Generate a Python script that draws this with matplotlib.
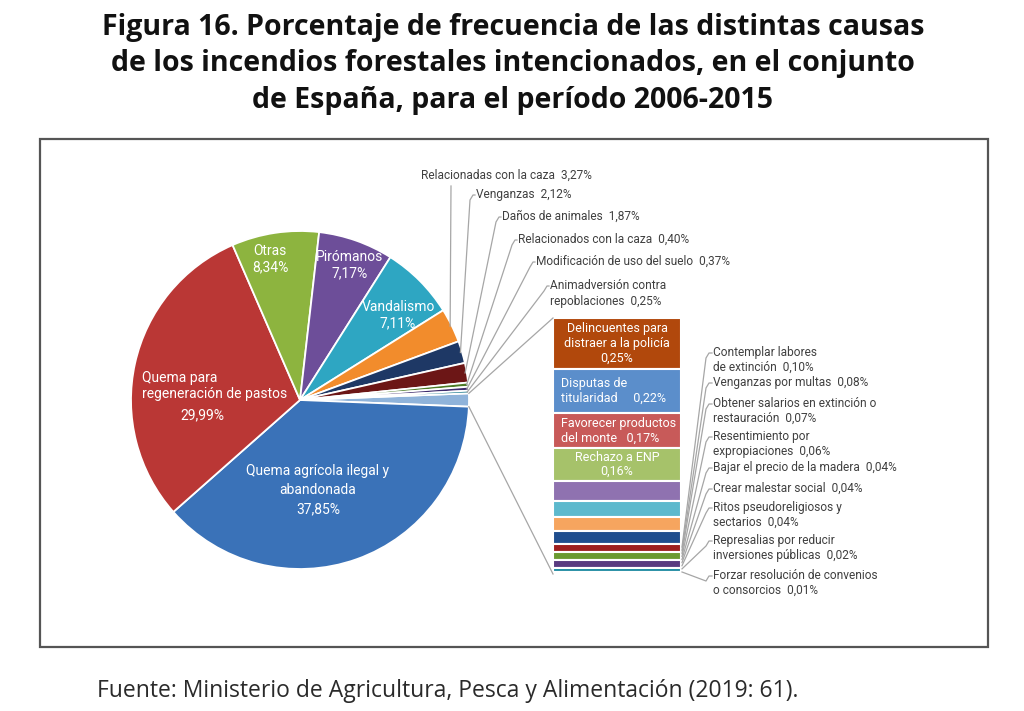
import numpy as np
import matplotlib
matplotlib.use("Agg")
import matplotlib.pyplot as plt
from matplotlib.patches import Rectangle

# --- data -------------------------------------------------------------
# main slices, clockwise after the grouped slice
pie_labels = ["Quema agrícola ilegal y abandonada", "Quema para regeneración de pastos",
              "Otras", "Pirómanos", "Vandalismo", "Relacionadas con la caza", "Venganzas",
              "Daños de animales", "Relacionados con la caza", "Modificación de uso del suelo",
              "Animadversión contra\nrepoblaciones"]
pie_values = [37.85, 29.99, 8.34, 7.17, 7.11, 3.27, 2.12, 1.87, 0.40, 0.37, 0.25]
pie_colors = ["#3A72B8", "#BA3735", "#8DB43F", "#6D4E99", "#2EA6C2", "#F28C2C", "#1E3865",
              "#6C1616", "#4E7B27", "#3E2A6C", "#1C7A8E"]
group_color = "#8FB3DA"

# secondary bar, top to bottom
bar_labels = ["Delincuentes para\ndistraer a la policía", "Disputas de\ntitularidad",
              "Favorecer productos\ndel monte", "Rechazo a ENP",
              "Contemplar labores\nde extinción", "Venganzas por multas",
              "Obtener salarios en extinción o\nrestauración", "Resentimiento por\nexpropiaciones",
              "Bajar el precio de la madera", "Crear malestar social",
              "Ritos pseudoreligiosos y\nsectarios", "Represalias por reducir\ninversiones públicas",
              "Forzar resolución de convenios\no consorcios"]
bar_values = [0.25, 0.22, 0.17, 0.16, 0.10, 0.08, 0.07, 0.06, 0.04, 0.04, 0.04, 0.02, 0.01]
bar_colors = ["#B1480C", "#5B8ECB", "#C85A59", "#A6C26A", "#8F72B0", "#5DB9CD", "#F6A55F",
              "#1F4E8E", "#9D1F1F", "#6B9A31", "#5A3A80", "#1E8AA1", "#F8C88F"]

title = ("Figura 16. Porcentaje de frecuencia de las distintas causas\n"
         "de los incendios forestales intencionados, en el conjunto\n"
         "de España, para el período 2006-2015")
source = "Fuente: Ministerio de Agricultura, Pesca y Alimentación (2019: 61)."


def pct(v):
    return f"{v:.2f}".replace(".", ",") + "%"


W, H = 1024, 711
fig = plt.figure(figsize=(W / 100, H / 100), dpi=100)
plt.rcParams['font.family'] = ['Roboto', 'DejaVu Sans']
txt = "#404040"
line_c = "#A6A6A6"

# pie
cx, cy, r = 300, 400, 169
ax_pie = fig.add_axes([(cx - r) / W, (H - cy - r) / H, 2 * r / W, 2 * r / H])
group = sum(bar_values)
values = [group] + pie_values
total = sum(values)
wedges, _ = ax_pie.pie(values, colors=[group_color] + pie_colors, counterclock=False,
                       startangle=180 * group / total, radius=1,
                       wedgeprops=dict(edgecolor="white", linewidth=1.3))
ax_pie.set_xlim(-1, 1)
ax_pie.set_ylim(-1, 1)
ax_pie.set_aspect("equal")
ax_pie.axis("off")

# bar of the grouped slice
bx0, bx1, by0, by1 = 553, 681, 318, 574
ax_bar = fig.add_axes([bx0 / W, (H - by1) / H, (bx1 - bx0) / W, (by1 - by0) / H])
bottoms = group - np.cumsum(bar_values)
ax_bar.bar(0, bar_values, bottom=bottoms, width=1, color=bar_colors,
           edgecolor="white", linewidth=1.5)
ax_bar.set_xlim(-0.5, 0.5)
ax_bar.set_ylim(0, group)
ax_bar.axis("off")

# overlay in pixel coords
ov = fig.add_axes([0, 0, 1, 1])
ov.set_xlim(0, W)
ov.set_ylim(H, 0)
ov.axis("off")
ov.patch.set_visible(False)
ov.set_zorder(5)


def to_ov(ax, pt):
    return ov.transData.inverted().transform(ax.transData.transform(pt))


# connector lines pie -> bar
gw = wedges[0]
p_top = to_ov(ax_pie, (np.cos(np.radians(gw.theta2)), np.sin(np.radians(gw.theta2))))
p_bot = to_ov(ax_pie, (np.cos(np.radians(gw.theta1)), np.sin(np.radians(gw.theta1))))
b_top = to_ov(ax_bar, (-0.5, group))
b_bot = to_ov(ax_bar, (-0.5, 0))
ov.plot([p_top[0], b_top[0]], [p_top[1], b_top[1]], color=line_c, lw=0.9)
ov.plot([p_bot[0], b_bot[0]], [p_bot[1], b_bot[1]], color=line_c, lw=0.9)

# labels inside the pie
ov.text(318, 490, pie_labels[0].replace(" abandonada", "\nabandonada") + "\n" + pct(pie_values[0]),
        ha="center", va="center", color="white", fontsize=10, linespacing=1.45)
ov.text(142, 386, "Quema para\nregeneración de pastos", ha="left", va="center",
        color="white", fontsize=10, linespacing=1.2)
ov.text(202, 415, pct(pie_values[1]), ha="center", va="center", color="white", fontsize=10)
for lab, v, x, y in [(pie_labels[2], pie_values[2], 270, 259),
                     (pie_labels[3], pie_values[3], 350, 265),
                     (pie_labels[4], pie_values[4], 398, 315)]:
    ov.text(x, y, lab + "\n" + pct(v), ha="center", va="center", color="white",
            fontsize=10, linespacing=1.2)

# labels of the small slices, above the pie
top_pos = [(421, 176), (476, 195), (502, 217), (518, 240), (536, 262), (550, 286)]
for i, (x, y) in enumerate(top_pos):
    k = i + 5
    w = wedges[k + 1]
    mid = np.radians((w.theta1 + w.theta2) / 2)
    p = to_ov(ax_pie, (0.99 * np.cos(mid), 0.99 * np.sin(mid)))
    lab = pie_labels[k] + "  " + pct(pie_values[k])
    ov.text(x, y - 7, lab, ha="left", va="top", color=txt, fontsize=8.6, linespacing=1.25)
    if i == 0:
        ov.plot([p[0], 451], [p[1], 186], color=line_c, lw=0.9)
    else:
        ov.plot([p[0], x - 6, x - 3, x - 1], [p[1], y + 5, y, y], color=line_c, lw=0.9)

# labels inside the bar
mids = bottoms + np.array(bar_values) / 2
ax_bar.text(0, mids[0], bar_labels[0] + "\n" + pct(bar_values[0]), ha="center", va="center",
            color="white", fontsize=9, linespacing=1.15)
ax_bar.text(-0.44, mids[1], "Disputas de\ntitularidad     " + pct(bar_values[1]), ha="left",
            va="center", color="white", fontsize=9, linespacing=1.2)
ax_bar.text(-0.44, mids[2], "Favorecer productos\ndel monte   " + pct(bar_values[2]), ha="left",
            va="center", color="white", fontsize=9, linespacing=1.15)
ax_bar.text(0, mids[3], bar_labels[3] + "\n" + pct(bar_values[3]), ha="center", va="center",
            color="white", fontsize=9, linespacing=1.15)

# labels right of the bar
right_y = [353, 383, 404, 437, 468, 489, 508, 541, 576]
starts = np.linspace(547, 572, len(right_y))
lx = 713
for j, (y, sy) in enumerate(zip(right_y, starts)):
    k = j + 4
    ov.text(lx, y - 7, bar_labels[k] + "  " + pct(bar_values[k]), ha="left", va="top",
            color=txt, fontsize=8.6, linespacing=1.2)
    ov.plot([bx1 + 1, lx - 7, lx - 4, lx - 1], [sy, y + 5, y, y], color=line_c, lw=0.9)

# frame, title and source
ov.add_patch(Rectangle((40, 139), 948, 508, fill=False, edgecolor="#555555", lw=1.6))
ov.text(513, 64, title, ha="center", va="center", fontsize=20.5, fontweight="bold",
        family=["Open Sans", "DejaVu Sans"], color="#111111", linespacing=1.32)
ov.text(97, 691, source, ha="left", va="center", fontsize=16.5,
        family=["Open Sans", "DejaVu Sans"], color="#2a2a2a")

fig.savefig("out.png", dpi=100)
